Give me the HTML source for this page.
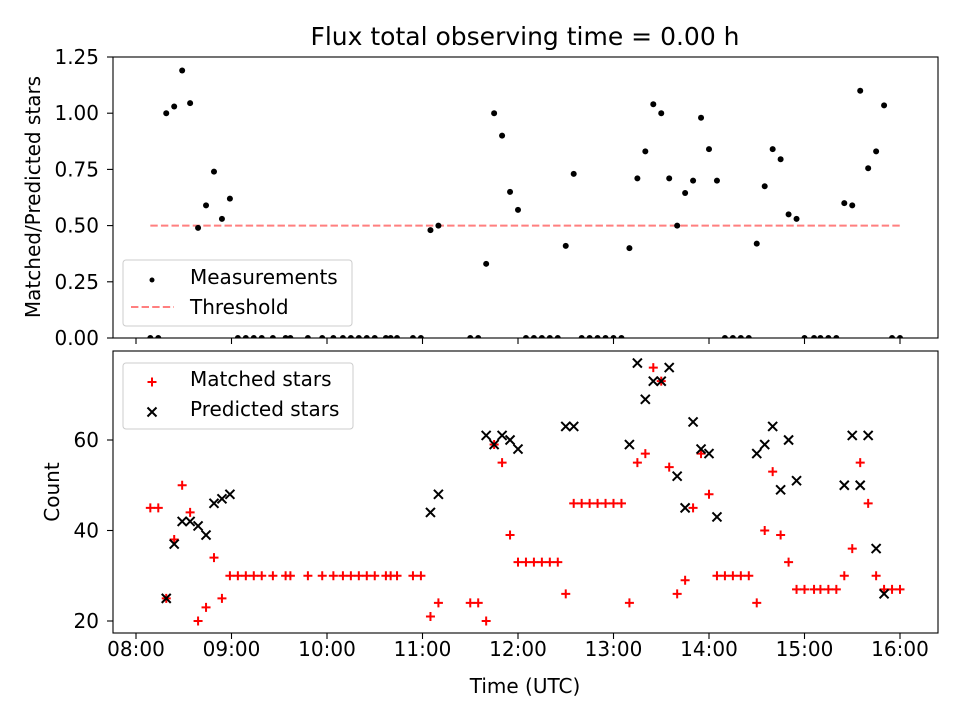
<!DOCTYPE html>
<html><head><meta charset="utf-8"><style>
body{margin:0;background:#fff}
svg{font-family:"DejaVu Sans","Liberation Sans",sans-serif}
</style></head><body>
<svg id="fig" width="960" height="720" viewBox="0 0 960 720">
<rect width="960" height="720" fill="#fff"/>
<text x="525" y="45" font-size="25" text-anchor="middle">Flux total observing time = 0.00 h</text>
<g id="topPanel"></g>
<g id="botPanel"></g>
<text transform="translate(40,197) rotate(-90)" font-size="20" text-anchor="middle">Matched/Predicted stars</text>
<text transform="translate(59,492) rotate(-90)" font-size="20" text-anchor="middle">Count</text>
<text x="525" y="693" font-size="20" text-anchor="middle">Time (UTC)</text>
</svg>
<script>
// minutes after 08:00 UTC
const minutes=[9,14,19,24,29,34,39,44,49,54,59,64,69,74,79,86,94,97,108,117,124,130,135,140,145,150,157,160,164,174,179,185,190,210,215,220,225,230,235,240,245,250,255,260,265,270,275,280,285,290,295,300,305,310,315,320,325,330,335,340,345,350,355,360,365,370,375,380,385,390,395,400,405,410,415,420,426,430,435,440,445,450,455,460,465,470,475,480];
const ratio=[0,0,1.00,1.03,1.19,1.045,0.49,0.59,0.74,0.53,0.62,0,0,0,0,0,0,0,0,0,0,0,0,0,0,0,0,0,0,0,0,0.48,0.50,0,0,0.33,1.00,0.90,0.65,0.57,0,0,0,0,0,0.41,0.73,0,0,0,0,0,0,0.40,0.71,0.83,1.04,1.00,0.71,0.50,0.645,0.70,0.98,0.84,0.70,0,0,0,0,0.42,0.675,0.84,0.795,0.55,0.53,0,0,0,0,0,0.60,0.59,1.10,0.755,0.83,1.035,0,0];
const matched=[45,45,25,38,50,44,20,23,34,25,30,30,30,30,30,30,30,30,30,30,30,30,30,30,30,30,30,30,30,30,30,21,24,24,24,20,59,55,39,33,33,33,33,33,33,26,46,46,46,46,46,46,46,24,55,57,76,73,54,26,29,45,57,48,30,30,30,30,30,24,40,53,39,33,27,27,27,27,27,27,30,36,55,46,30,27,27,27];
const predicted=[null,null,25,37,42,42,41,39,46,47,48,null,null,null,null,null,null,null,null,null,null,null,null,null,null,null,null,null,null,null,null,44,48,null,null,61,59,61,60,58,null,null,null,null,null,63,63,null,null,null,null,null,null,59,77,69,73,73,76,52,45,64,58,57,43,null,null,null,null,57,59,63,49,60,51,null,null,null,null,null,50,61,50,61,36,26,null,null];
const threshold=0.5;
const ratioTicks=[0,0.25,0.5,0.75,1.0,1.25];
const countTicks=[20,40,60];
const timeTicks=[0,60,120,180,240,300,360,420,480];
const timeLabels=["08:00","09:00","10:00","11:00","12:00","13:00","14:00","15:00","16:00"];

const NS="http://www.w3.org/2000/svg";
function mk(parent,tag,attrs){const e=document.createElementNS(NS,tag);for(const k in attrs)e.setAttribute(k,attrs[k]);parent.appendChild(e);return e;}
const L=113,R=938;
const xs=m=>136+m*(764/480);
const yTop=v=>338-v*224.8;
const yBot=v=>621-(v-20)*4.525;
const topG=document.getElementById('topPanel'),botG=document.getElementById('botPanel');

function frame(g,y0,y1,ticks,yf,fmt,showX,nm){
  const r=mk(g,'rect',{x:L,y:y0,width:R-L,height:y1-y0,fill:'none',stroke:'#000','stroke-width':1.1});
  
  
  ticks.forEach(t=>{const y=yf(t);
    const l=mk(g,'line',{x1:L-6,x2:L,y1:y,y2:y,stroke:'#000','stroke-width':1.1});
    
    
    const tx=mk(g,'text',{x:L-14,y:y+7,'font-size':20,'text-anchor':'end'});tx.textContent=fmt(t);
    
    
  });
  timeTicks.forEach((t,i)=>{const x=xs(t);
    const l=mk(g,'line',{x1:x,x2:x,y1:y1,y2:y1+6,stroke:'#000','stroke-width':1.1});
    
    
    if(showX){const tx=mk(g,'text',{x:x,y:y1+23,'font-size':20,'text-anchor':'middle'});tx.textContent=timeLabels[i];
      
      }
  });
}
frame(topG,57,338,ratioTicks,yTop,v=>v.toFixed(2),false,'ratio');
frame(botG,351,633,countTicks,yBot,v=>String(v),true,'count');

const th=mk(topG,'line',{x1:xs(minutes[0]),x2:xs(minutes[minutes.length-1]),y1:yTop(threshold),y2:yTop(threshold),stroke:'#ff7f7f','stroke-width':2,'stroke-dasharray':'7.4,3.2'});


const clip=mk(topG,'clipPath',{id:'ct'});mk(clip,'rect',{x:L,y:57,width:R-L,height:281});
const mg=mk(topG,'g',{'clip-path':'url(#ct)'});
minutes.forEach((m,i)=>{const c=mk(mg,'circle',{cx:xs(m),cy:yTop(ratio[i]),r:3,fill:'#000'});
  
  });
function plus(g,x,y){return mk(g,'path',{d:`M${x-4.5},${y}H${x+4.5}M${x},${y-4.5}V${y+4.5}`,stroke:'#f00','stroke-width':2,fill:'none'});}
function cross(g,x,y){return mk(g,'path',{d:`M${x-4.5},${y-4.5}L${x+4.5},${y+4.5}M${x-4.5},${y+4.5}L${x+4.5},${y-4.5}`,stroke:'#000','stroke-width':2,fill:'none'});}
minutes.forEach((m,i)=>{const p=plus(botG,xs(m),yBot(matched[i]));
  
  });
minutes.forEach((m,i)=>{if(predicted[i]==null)return;const p=cross(botG,xs(m),yBot(predicted[i]));
  
  });

const lg1=mk(topG,'g',{});


mk(lg1,'rect',{x:123,y:260,width:229,height:66,rx:3,fill:'#fff','fill-opacity':0.8,stroke:'#ccc'});
mk(lg1,'circle',{cx:152,cy:280,r:2.5,fill:'#000'});
let t=mk(lg1,'text',{x:190,y:284,'font-size':20});t.textContent='Measurements';
mk(lg1,'line',{x1:131,x2:174,y1:307,y2:307,stroke:'#ff7f7f','stroke-width':2,'stroke-dasharray':'7.4,3.2'});
t=mk(lg1,'text',{x:190,y:314,'font-size':20});t.textContent='Threshold';
const lg2=mk(botG,'g',{});


mk(lg2,'rect',{x:123,y:363,width:230,height:66,rx:3,fill:'#fff','fill-opacity':0.8,stroke:'#ccc'});
plus(lg2,152,382);
t=mk(lg2,'text',{x:190,y:386,'font-size':20});t.textContent='Matched stars';
cross(lg2,152,412);
t=mk(lg2,'text',{x:190,y:416,'font-size':20});t.textContent='Predicted stars';
</script>
</body></html>
